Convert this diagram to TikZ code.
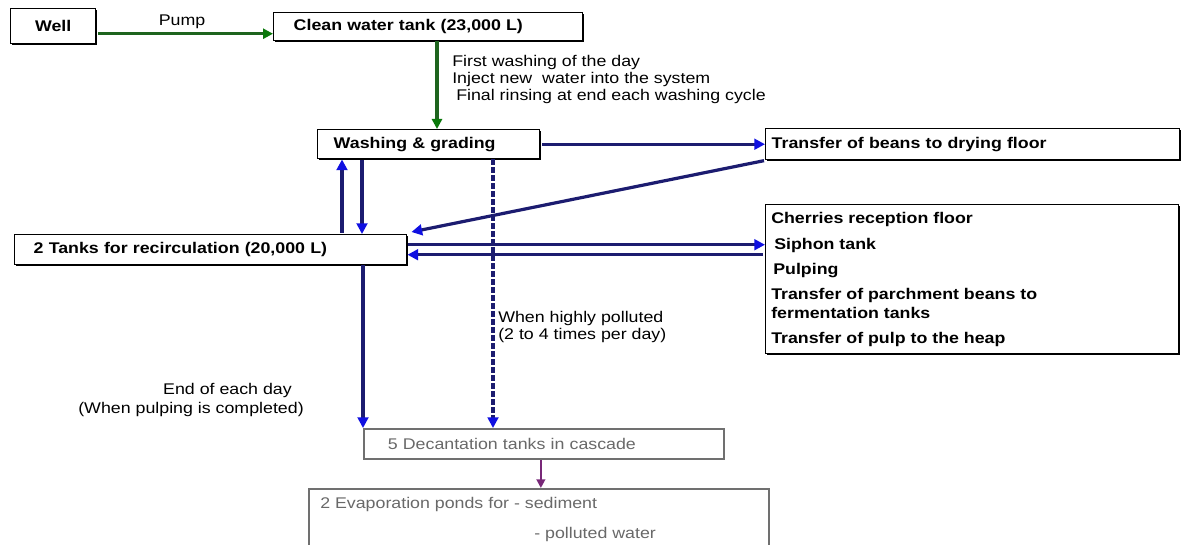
\documentclass[tikz,border=0pt]{standalone}
\usepackage{fontspec}
\setmainfont{Liberation Sans}[FakeStretch=1.15]
\usetikzlibrary{arrows.meta,shadows}
\newlength\px
\setlength\px{0.75pt}
\definecolor{flownavy}{RGB}{28,28,112}
\definecolor{tipblue}{RGB}{16,16,225}
\definecolor{flowgreen}{RGB}{30,100,30}
\definecolor{tipgreen}{RGB}{10,120,10}
\definecolor{flowpurple}{RGB}{120,40,120}
\definecolor{pondgray}{RGB}{112,112,112}
\definecolor{pondtext}{RGB}{105,105,105}
\tikzset{
  txt/.style={font=\fontsize{11.6}{12.75}\selectfont},
  box/.style={draw=black, line width=1.1pt, fill=white, anchor=north west,
    inner ysep=0pt, align=left, font=\fontsize{11.6}{12.75}\selectfont\bfseries,
    drop shadow={shadow xshift=0.8pt, shadow yshift=-0.8pt, fill=black, opacity=1}},
  graybox/.style={box, draw=pondgray, line width=1.3pt, text=pondtext, font=\fontsize{11.6}{12.75}\selectfont,
    drop shadow={shadow xshift=0.9pt, shadow yshift=-0.9pt, fill=black!80, opacity=1}},
  lbl/.style={txt, inner sep=0pt},
  boldlbl/.style={lbl, anchor=west, font=\fontsize{11.6}{12.75}\selectfont\bfseries},
  graylbl/.style={lbl, anchor=west, text=pondtext},
  navyflow/.style={draw=flownavy, line width=2.4pt,
    -{Triangle[length=8pt, width=8pt, color=tipblue]}},
  navydash/.style={navyflow, dash pattern=on 3.8pt off 2.2pt},
  greenflow/.style={draw=flowgreen, line width=2pt,
    -{Triangle[length=7.5pt, width=7.5pt, color=tipgreen]}},
  purpleflow/.style={draw=flowpurple, line width=1.5pt,
    -{Triangle[length=6.5pt, width=6.5pt, color=flowpurple]}},
}
\begin{document}
\begin{tikzpicture}[x=0.75pt, y=-0.75pt]
\useasboundingbox (0,0) rectangle (1185,545);
\clip (0,0) rectangle (1185,545);
\fill[white] (0,0) rectangle (1185,545);

% process boxes
\node[box, align=center, inner xsep=0pt, text width=85\px, minimum height=35\px] (well) at (10,8) {Well};
\node[box, inner xsep=20\px, text width=269\px, minimum height=28\px] (clean) at (273,12) {Clean water tank (23,000 L)};
\node[box, inner xsep=16\px, text width=190\px, minimum height=29\px] (wash) at (317,129) {Washing \& grading};
\node[box, inner xsep=6\px, text width=402\px, minimum height=31\px] (dry) at (765,128) {Transfer of beans to drying floor};
\node[box, inner xsep=19\px, text width=354\px, minimum height=30\px] (tanks) at (14,234) {2 Tanks for recirculation (20,000 L)};
\node[box, inner sep=0pt, minimum width=413\px, minimum height=149\px] (rbox) at (765,204) {};
\node[graybox, inner xsep=24\px, text width=312\px, minimum height=30\px] (decant) at (363,428) {5 Decantation tanks in cascade};
\node[graybox, inner sep=0pt, minimum width=460\px, minimum height=64\px] (evap) at (308,488) {};

% contents of the reception box
\node[boldlbl] (cherries) at (771,220) {Cherries reception floor};
\node[boldlbl] (siphon) at (774,246) {Siphon tank};
\node[boldlbl] (pulping) at (773,271) {Pulping};
\node[boldlbl] (parch1) at (771,296) {Transfer of parchment beans to};
\node[boldlbl] (parch2) at (771,313) {fermentation tanks};
\node[boldlbl] (heap) at (771,340) {Transfer of pulp to the heap};

% contents of the evaporation ponds box
\node[graylbl] (ponds) at (320,504) {2 Evaporation ponds for - sediment};
\node[graylbl] (polluted) at (534,534) {- polluted water};

% connector labels
\node[lbl] (pump) at (182,22) {Pump};
\node[lbl, anchor=west, align=left] (uses) at (452,80) {First washing of the day\\Inject new\ \ water into the system\\\hspace*{4\px}Final rinsing at end each washing cycle};
\node[lbl, anchor=west, align=left] (highly) at (498,327) {When highly polluted\\(2 to 4 times per day)};
\node[lbl, anchor=east] (endday) at (292,391) {End of each day};
\node[lbl, anchor=east] (whenpulp) at (304,410) {(When pulping is completed)};

% clean water supply
\draw[greenflow, shorten <=2\px] ([yshift=-7.5\px]well.east) -- ([yshift=-7.5\px]well.east -| clean.west);
\draw[greenflow, line width=2.8pt] ([xshift=164\px]clean.south west) -- ([xshift=164\px]clean.south west |- wash.north);

% recirculation loop
\draw[navyflow, shorten <=2\px] (wash.east) -- (dry.west);
\draw[navyflow, shorten <=1\px] (dry.south west) -- ([xshift=4\px, yshift=2\px]tanks.north east);
\draw[navyflow, shorten <=1\px] ([xshift=25\px]wash.south west |- tanks.north) -- ([xshift=25\px]wash.south west);
\draw[navyflow, shorten <=1\px] ([xshift=45\px]wash.south west) -- ([xshift=45\px]wash.south west |- tanks.north);
\draw[navyflow, shorten <=1\px] ([yshift=5\px]tanks.east) -- ([yshift=5\px]tanks.east -| rbox.west);
\draw[navyflow, shorten <=2\px] ([yshift=-5\px]tanks.east -| rbox.west) -- ([yshift=-5\px]tanks.east);

% discharge to treatment
\draw[navyflow] (decant.north west |- tanks.south) -- (decant.north west);
\draw[navydash] ([xshift=130\px]decant.north west |- wash.south) -- ([xshift=130\px]decant.north west);
\draw[purpleflow] ([xshift=-3\px]decant.south) -- ([xshift=-3\px]decant.south |- evap.north);
\end{tikzpicture}
\end{document}
